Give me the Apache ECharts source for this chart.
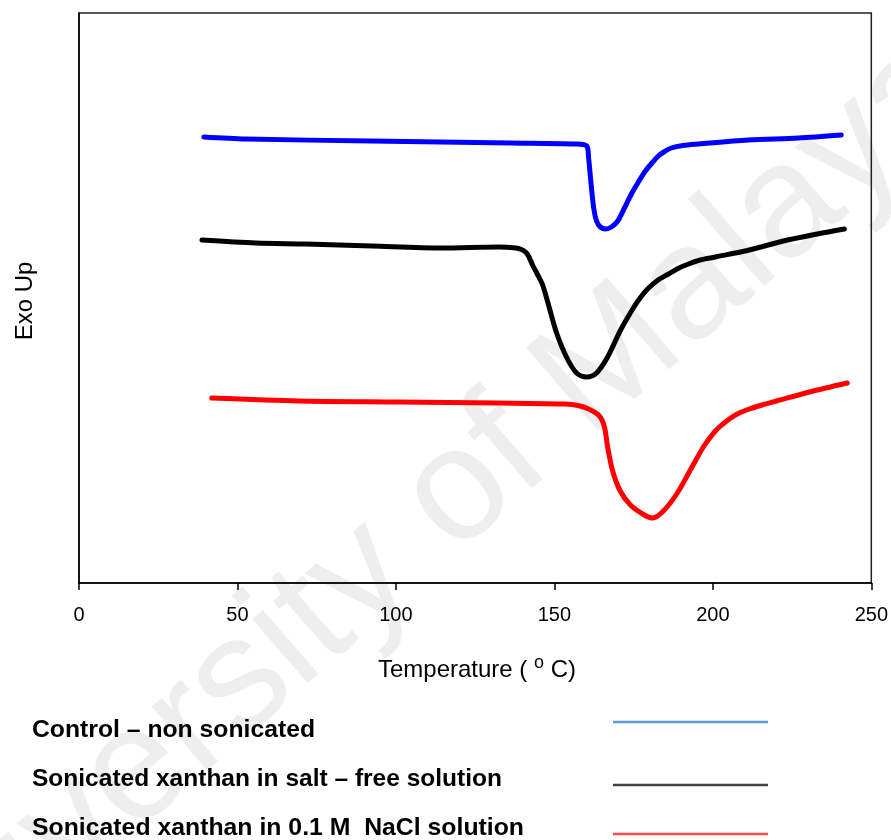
<!DOCTYPE html>
<html>
<head>
<meta charset="utf-8">
<script src="https://cdn.jsdelivr.net/npm/echarts@6/dist/echarts.min.js"></script>
<style>
html,body{margin:0;padding:0;background:#fff;}
#chart{width:891px;height:840px;}
</style>
</head>
<body>
<div id="chart"></div>
<script>
// ---- data ----
var xTicks = [0, 50, 100, 150, 200, 250];

var blueT = [39.4, 52.6, 92.1, 136.2, 156.7, 160.2, 160.8, 161.4, 162.4, 163.3, 164.5, 166.2, 168.0, 170.0, 172.1, 174.3, 176.5, 178.7, 180.8, 182.8, 184.8, 186.9, 190.5, 195.5, 211.2, 227.0, 240.5];
var blueV = [446, 444, 442, 440, 439, 437, 425, 405, 375, 362, 356, 354, 356, 362, 375, 389, 401, 412, 420, 427, 431.5, 435, 437.5, 439, 443, 445, 448];

var blackT = [38.8, 55.8, 71.6, 92.4, 114.4, 132.4, 137.8, 139.6, 140.9, 142.0, 143.1, 144.6, 146.3, 148.5, 150.7, 153.8, 157.0, 160.2, 163.3, 166.8, 170.9, 175.3, 177.4, 179.4, 182.5, 186.0, 189.0, 192.3, 196.0, 200.8, 211.5, 222.3, 233.0, 241.5];
var blackV = [343, 340, 339, 337, 335, 336, 335, 333.5, 331, 326, 318, 309, 298, 274, 250, 226, 210, 206, 210, 226, 253, 277, 286.5, 294, 302.5, 309, 314.5, 319, 323, 326, 333, 342, 349, 354];

var redT = [41.9, 69.4, 100.9, 132.4, 153.2, 157.5, 160.8, 164.2, 165.8, 166.8, 168.3, 170.6, 174.0, 178.4, 181.0, 184.4, 188.8, 192.9, 195.0, 197.0, 199.0, 201.1, 203.2, 205.2, 208.0, 211.5, 215.5, 220.1, 230.5, 242.4];
var redV = [185, 182, 181, 180, 179, 177.5, 174, 167, 156, 136, 113, 93, 78, 68, 65, 72, 90, 113, 125, 136, 145, 153, 159, 164, 169.5, 174, 178, 182, 191, 200];

var legendNames = [
  'Control \u2013 non sonicated',
  'Sonicated xanthan in salt \u2013 free solution',
  'Sonicated xanthan in 0.1 M  NaCl solution'
];
var seriesColors = ['#0000ff', '#000000', '#ff0000'];
var legendColors = ['#5b9bd5', '#444444', '#ff4b4b'];

// ---- helpers ----
function pairs(t, v) { return t.map(function (x, i) { return [x, v[i]]; }); }
var FONT = '"Liberation Sans", Arial, Helvetica, sans-serif';
var mctx = document.createElement('canvas').getContext('2d');
function measure(txt, font) { mctx.font = font; return mctx.measureText(txt).width; }

var chart = echarts.init(document.getElementById('chart'), null, {renderer: 'canvas'});

var legendRows = [730, 779, 828];
var legendTargetW = [283, 470, 492];
var lineRows = [722, 785, 834];
var graphics = [];

// watermark
graphics.push({
  type: 'text', x: 405, y: 540, rotation: 41 * Math.PI / 180, z: -10, silent: true,
  style: {text: 'University of Malaya', font: '160px ' + FONT, fill: '#eeeeee',
          textAlign: 'center', textVerticalAlign: 'middle'}
});

var legFont = 'bold 24px ' + FONT;
for (var i = 0; i < 3; i++) {
  var w = measure(legendNames[i], legFont);
  graphics.push({
    type: 'text', x: 32, y: legendRows[i], scaleX: legendTargetW[i] / w, z: 10,
    style: {text: legendNames[i], font: legFont, fill: '#000', textAlign: 'left', textVerticalAlign: 'middle'}
  });
  graphics.push({
    type: 'line', z: 10,
    shape: {x1: 613, y1: lineRows[i], x2: 768, y2: lineRows[i]},
    style: {stroke: legendColors[i], lineWidth: 2.5}
  });
}

// y axis title
graphics.push({
  type: 'text', x: 25, y: 301, rotation: Math.PI / 2, z: 10,
  style: {text: 'Exo Up', font: '24px ' + FONT, fill: '#000', textAlign: 'center', textVerticalAlign: 'middle'}
});

// x axis title with superscript o
var tFont = '24px ' + FONT, sFont = '18px ' + FONT;
var p1 = 'Temperature ( ', p2 = 'o', p3 = ' C)';
var w1 = measure(p1, tFont), w2 = measure(p2, sFont), w3 = measure(p3, tFont);
var x0 = 477 - (w1 + w2 + w3) / 2;
graphics.push({type: 'text', x: x0, y: 670, z: 10,
  style: {text: p1, font: tFont, fill: '#000', textAlign: 'left', textVerticalAlign: 'middle'}});
graphics.push({type: 'text', x: x0 + w1, y: 663, z: 10,
  style: {text: p2, font: sFont, fill: '#000', textAlign: 'left', textVerticalAlign: 'middle'}});
graphics.push({type: 'text', x: x0 + w1 + w2, y: 670, z: 10,
  style: {text: p3, font: tFont, fill: '#000', textAlign: 'left', textVerticalAlign: 'middle'}});

function mkSeries(name, t, v, color) {
  return {
    name: name, type: 'line', data: pairs(t, v), showSymbol: false,
    smooth: 0.3, animation: false,
    lineStyle: {color: color, width: 5, cap: 'round', join: 'round'},
    itemStyle: {color: color}
  };
}

chart.setOption({
  animation: false,
  backgroundColor: '#fff',
  grid: {left: 79, right: 17, top: 13, bottom: 257, show: true, borderColor: '#222', borderWidth: 1.5, backgroundColor: 'transparent'},
  xAxis: {
    type: 'value', min: xTicks[0], max: xTicks[xTicks.length - 1], interval: 50,
    axisLine: {show: true, onZero: false, lineStyle: {color: '#000', width: 1.5}},
    axisTick: {show: true, inside: false, length: 7, lineStyle: {color: '#000', width: 1.5}},
    axisLabel: {color: '#000', fontSize: 20, fontFamily: FONT, margin: 22},
    splitLine: {show: false}
  },
  yAxis: {
    type: 'value', min: 0, max: 570,
    axisLine: {show: true, lineStyle: {color: '#000', width: 1.5}},
    axisTick: {show: false}, axisLabel: {show: false}, splitLine: {show: false}
  },
  series: [
    mkSeries(legendNames[0], blueT, blueV, seriesColors[0]),
    mkSeries(legendNames[1], blackT, blackV, seriesColors[1]),
    mkSeries(legendNames[2], redT, redV, seriesColors[2])
  ],
  graphic: graphics
});
</script>
</body>
</html>
